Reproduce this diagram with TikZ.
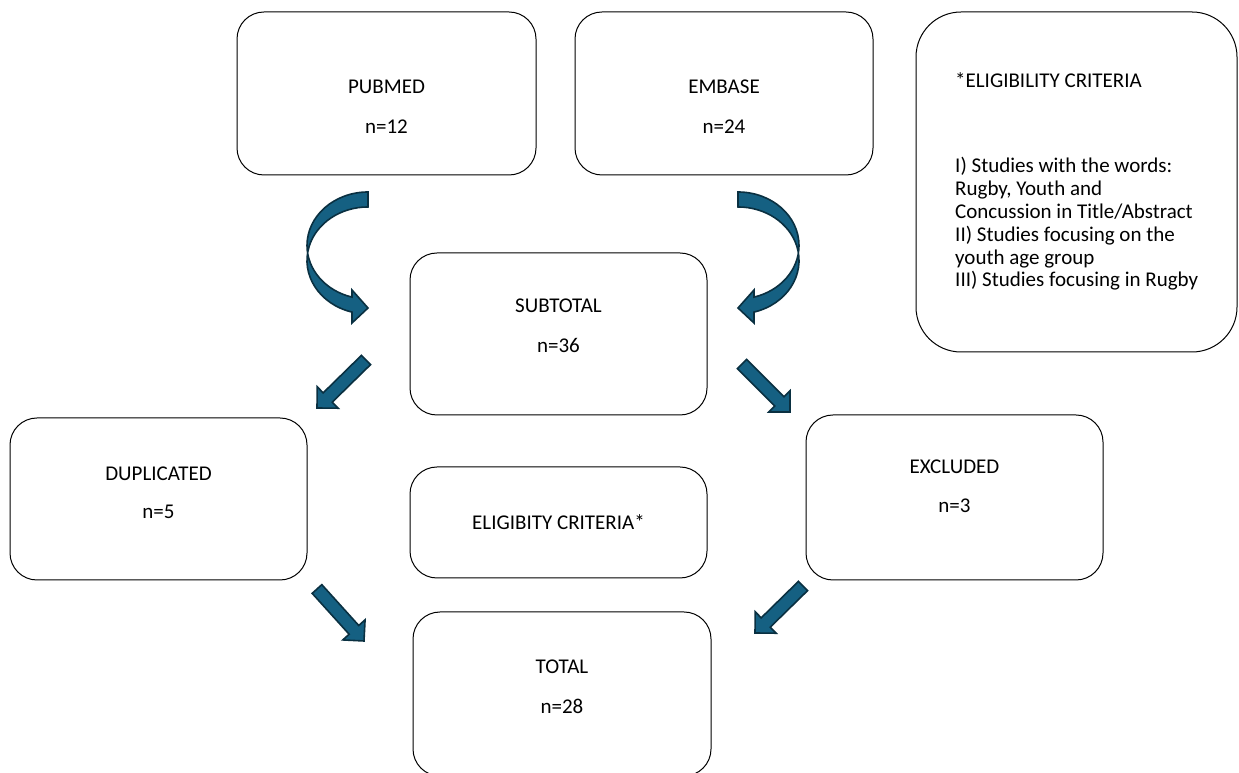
\documentclass[tikz,border=0pt]{standalone}
\usepackage{fontspec}
\setmainfont{Carlito}
\usetikzlibrary{calc}
\definecolor{arrfill}{HTML}{156082}
\definecolor{arrline}{HTML}{0A3041}

\tikzset{
  box/.style={draw=black, line width=1pt, rounded corners=27pt, minimum width=297pt, minimum height=162pt},
  txt/.style={font=\fontsize{21}{23}\selectfont, inner sep=0pt},
  blockarrow/.style={fill=arrfill, draw=arrline, line width=1.6pt, line join=miter},
  pics/curvearr/.style={code={
    \draw[blockarrow] (368,581) arc[start angle=90, end angle=254.8, x radius=61, y radius=53.5]
      -- (352,483) -- (368,465) -- (352,450) -- (352,460.9)
      arc[start angle=254.8, end angle=90, x radius=61, y radius=53.5] -- cycle;
  }}
}

% straight block arrow from #1 (tail) to #2 (tip)
\newcommand{\blockarr}[2]{%
  \draw[blockarrow] ($(#1)!6.5pt!90:(#2)$)
    -- ($($(#2)!15pt!(#1)$)!6.5pt!-90:(#1)$)
    -- ($($(#2)!15pt!(#1)$)!15pt!-90:(#1)$)
    -- (#2)
    -- ($($(#2)!15pt!(#1)$)!15pt!90:(#1)$)
    -- ($($(#2)!15pt!(#1)$)!6.5pt!90:(#1)$)
    -- ($(#1)!6.5pt!-90:(#2)$) -- cycle;}

\begin{document}
\begin{tikzpicture}[x=1pt,y=1pt]
  \useasboundingbox (0,0) rectangle (1239,773);

  % boxes
  \node[box, minimum width=299pt, minimum height=163pt] (pubmed) at (386.5,679.5) {};
  \node[box, minimum width=298pt, minimum height=163pt] (embase) at (724,679.5) {};
  \node[box, rounded corners=45pt, minimum width=321pt, minimum height=340pt] (criteria) at (1076.5,591) {};
  \node[box] (subtotal) at (558.5,439) {};
  \node[box] (duplicated) at (158.5,274) {};
  \node[box, minimum height=111pt] (eligib) at (558.5,250.5) {};
  \node[box, minimum height=165pt] (excluded) at (954.5,275.5) {};
  \node[box, minimum width=298pt, minimum height=164pt] (total) at (562,79) {};

  % texts
  \node[txt] (pubmedT) at (386.5,686) {PUBMED};
  \node[txt] (pubmedN) at (386.5,646) {n=12};
  \node[txt] (embaseT) at (724,686) {EMBASE};
  \node[txt] (embaseN) at (724,646) {n=24};
  \node[txt] (subtotalT) at (558.5,467) {SUBTOTAL};
  \node[txt] (subtotalN) at (558.5,428) {n=36};
  \node[txt] (duplicatedT) at (158.5,299) {DUPLICATED};
  \node[txt] (duplicatedN) at (158.5,261) {n=5};
  \node[txt] (eligibT) at (558.5,251) {ELIGIBITY CRITERIA*};
  \node[txt] (excludedT) at (954.5,306) {EXCLUDED};
  \node[txt] (excludedN) at (954.5,267) {n=3};
  \node[txt] (totalT) at (562,106) {TOTAL};
  \node[txt] (totalN) at (562,67) {n=28};

  % criteria list
  \node[txt, anchor=west] (critT) at (955,693) {*ELIGIBILITY CRITERIA};
  \node[txt, anchor=west, align=left, font=\fontsize{21}{22.8}\selectfont] (critL) at (955,549)
    {I) Studies with the words:\\ Rugby, Youth and\\ Concussion in Title/Abstract\\
     II) Studies focusing on the\\ youth age group\\ III) Studies focusing in Rugby};

  % curved arrows
  \pic at (0,0) {curvearr};
  \pic[xscale=-1] at (1106,0) {curvearr};

  % straight arrows
  \coordinate (a1s) at (366,413); \coordinate (a1e) at (317,365);
  \coordinate (a2s) at (742,409); \coordinate (a2e) at (790,361);
  \coordinate (a3s) at (317,184); \coordinate (a3e) at (364,132);
  \coordinate (a4s) at (803,187); \coordinate (a4e) at (755,140);
  \blockarr{a1s}{a1e}
  \blockarr{a2s}{a2e}
  \blockarr{a3s}{a3e}
  \blockarr{a4s}{a4e}
\end{tikzpicture}
\end{document}
